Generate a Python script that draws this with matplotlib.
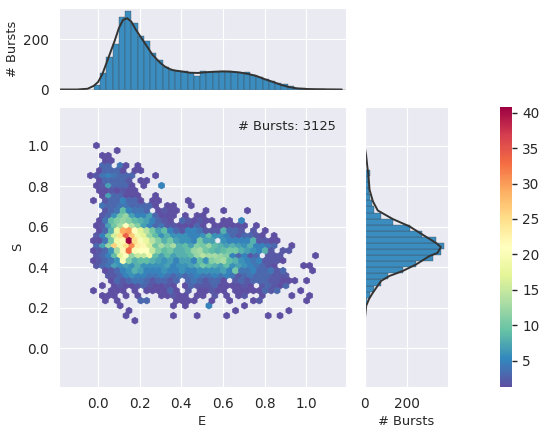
import numpy as np
import matplotlib
matplotlib.use("Agg")
import matplotlib.pyplot as plt
import seaborn as sns

sns.set_style("darkgrid")
plt.rcParams['font.family'] = ['DejaVu Sans']

# Histogram of E: bin edges start at -0.2, width 0.03
e_edges = [-0.2 + 0.03 * k for k in range(48)]
e_counts = [0, 0, 0, 0, 0, 0, 17, 67, 128, 181, 290, 313, 267, 215, 195, 144, 117, 90, 77, 75, 72, 67, 53, 75,
            69, 69, 75, 72, 69, 64, 71, 56, 51, 40, 35, 27, 20, 13, 7, 5, 3, 1, 1, 0, 0, 0, 0]
e_kde_x = [-0.19, -0.1, -0.05, -0.02, 0.0, 0.02, 0.04, 0.06, 0.08, 0.10, 0.12, 0.14, 0.16, 0.18, 0.20, 0.22, 0.24,
           0.26, 0.28, 0.30, 0.32, 0.34, 0.36, 0.40, 0.44, 0.48, 0.52, 0.56, 0.60, 0.64, 0.68, 0.72, 0.76, 0.80,
           0.84, 0.88, 0.92, 0.96, 1.00, 1.05, 1.17]
e_kde_y = [0, 0, 3, 15, 30, 60, 105, 150, 195, 245, 278, 284, 270, 240, 215, 190, 165,
           140, 122, 105, 92, 83, 77, 72, 67, 66, 69, 71, 72, 71, 68, 62, 54, 41,
           30, 18, 9, 4, 2, 1, 0]

# Histogram of S
s_edges = [-0.2 + 0.03 * k for k in range(48)]
s_counts = [0, 0, 0, 0, 0, 0, 0, 0, 0, 0, 0, 0, 1, 3, 14, 28, 47, 79, 114, 183, 246, 327, 363, 378, 341, 272, 218,
            134, 80, 43, 36, 27, 20, 20, 16, 28, 1, 1, 1, 1, 1, 1, 0, 0, 0, 0, 0]
s_kde_y = [0.137, 0.21, 0.245, 0.275, 0.305, 0.333, 0.357, 0.382, 0.414, 0.455, 0.471, 0.50, 0.52, 0.561, 0.602,
           0.638, 0.68, 0.725, 0.782, 0.85, 0.90, 0.95, 1.0]
s_kde_x = [1, 8, 22, 40, 60, 79, 118, 182, 245, 308, 347, 363, 340, 276, 213, 134, 63, 40, 24, 19, 13, 8, 0]

# 2D counts: row -> (first column, counts from that column on)
rows = {
    0: (0, [1]),
    1: (3, [1]),
    2: (1, [1, 1]),
    3: (1, [1, 1]),
    4: (1, [3, 3, 0, 4, 1, 0, 1]),
    5: (0, [1, 3, 3, 3, 1, 0, 1, 1]),
    6: (-1, [1, 2, 4, 5, 4, 3, 3, 3, 0, 0, 0, 1]),
    7: (0, [1, 3, 3, 3, 3, 2, 0, 1, 1]),
    8: (0, [1, 2, 7, 3, 3, 3, 1, 0, 1, 0, 0, 5]),
    9: (0, [1, 1, 2, 1, 2, 1, 1]),
    10: (1, [1, 7, 3, 3, 1, 1, 1, 0, 0, 1]),
    11: (-1, [1, 0, 2, 3, 3, 5, 3, 3, 1, 0, 1, 1, 0, 0, 0, 0, 1]),
    12: (1, [4, 3, 3, 4, 4, 3, 3, 3, 3, 1, 0, 1, 1, 0, 0, 1]),
    13: (1, [2, 3, 4, 9, 5, 4, 4, 3, 0, 1, 2, 1, 1, 0, 0, 0, 0, 1, 0, 0, 1, 0, 0, 0, 1]),
    14: (1, [2, 3, 6, 10, 12, 7, 5, 5, 7, 3, 1, 1, 1, 0, 1, 0, 1, 1]),
    15: (0, [1, 4, 9, 11, 12, 11, 9, 8, 7, 5, 3, 2, 1, 0, 3, 2, 1, 2, 1, 1, 0, 1, 1, 0, 5]),
    16: (0, [1, 2, 7, 10, 13, 21, 14, 11, 7, 5, 3, 4, 2, 2, 1, 1, 1, 3, 1, 0, 1, 1, 1, 1, 1, 1, 0, 1]),
    17: (0, [1, 3, 8, 18, 29, 30, 21, 17, 14, 10, 7, 9, 5, 3, 2, 5, 5, 4, 2, 2, 2, 8, 3, 3, 2, 0, 2, 0, 1]),
    18: (0, [2, 5, 10, 16, 25, 34, 27, 19, 17, 12, 9, 6, 8, 6, 6, 6, 5, 5, 6, 9, 6, 6, 5, 3, 2, 3, 3, 2, 1, 0, 1]),
    19: (-1, [1, 1, 4, 10, 19, 22, 41, 25, 20, 18, 14, 11, 8, 10, 7, 6, 6, 5, 10, 7, 7, 0, 6, 5, 5, 5, 5, 8, 2, 2, 1, 1]),
    20: (0, [3, 7, 12, 26, 19, 25, 31, 23, 22, 16, 10, 13, 11, 13, 8, 9, 7, 11, 10, 12, 9, 8, 7, 8, 7, 6, 8, 5, 5, 4, 3, 0, 0, 1]),
    21: (-1, [1, 2, 3, 6, 13, 22, 33, 20, 21, 21, 15, 11, 9, 10, 8, 8, 9, 12, 13, 10, 9, 8, 9, 10, 10, 8, 7, 6, 5, 8, 2, 0, 2, 2]),
    22: (0, [2, 3, 5, 9, 17, 21, 12, 15, 15, 19, 9, 7, 9, 7, 8, 8, 9, 12, 14, 13, 13, 12, 11, 5, 3, 5, 2, 3, 0, 2, 2, 2, 0, 0, 0, 0, 0, 1]),
    23: (-1, [1, 2, 3, 4, 6, 20, 11, 8, 9, 9, 8, 7, 6, 7, 5, 7, 7, 5, 9, 6, 11, 12, 13, 9, 8, 6, 5, 4, 5, 2, 2, 2, 1]),
    24: (0, [2, 3, 4, 7, 6, 7, 6, 8, 6, 6, 6, 6, 7, 5, 6, 6, 7, 8, 10, 9, 8, 7, 9, 6, 7, 6, 5, 4, 3, 2, 1, 0, 0, 0, 0, 1, 1]),
    25: (1, [1, 2, 3, 5, 6, 8, 7, 5, 5, 5, 6, 5, 5, 6, 5, 5, 6, 6, 6, 6, 7, 5, 10, 4, 4, 5, 3, 3, 4, 2, 3, 0, 0, 0, 0, 1]),
    26: (2, [2, 2, 3, 5, 6, 5, 5, 4, 4, 5, 4, 3, 4, 3, 4, 5, 4, 4, 5, 4, 5, 4, 2, 3, 4, 3, 3, 3, 2, 2, 2]),
    27: (2, [1, 3, 2, 3, 4, 4, 3, 2, 3, 3, 2, 3, 0, 3, 4, 3, 2, 3, 3, 1, 0, 2, 3, 2, 3, 3, 3, 2, 2, 1, 1, 1, 0, 1]),
    28: (1, [1, 0, 1, 2, 1, 1, 2, 3, 2, 1, 1, 2, 1, 0, 1, 3, 2, 2, 2, 3, 1, 1, 1, 1, 2, 1, 0, 2, 3, 2, 1, 3]),
    29: (-1, [1, 0, 0, 1, 1, 1, 0, 1, 0, 1, 1, 1, 1, 3, 1, 0, 2, 0, 1, 1, 2, 1, 1, 0, 1, 1, 1, 1, 1, 3, 2, 3, 0, 0, 0, 1]),
    30: (1, [1, 1, 1, 0, 1, 0, 1, 0, 0, 0, 1, 1, 2, 1, 1, 0, 1, 1, 0, 2, 0, 1, 0, 1, 2, 0, 0, 1, 0, 0, 0, 0, 1, 0, 0, 1]),
    31: (1, [1, 0, 1, 0, 0, 0, 3, 3, 0, 0, 0, 0, 1, 1, 1, 1, 0, 0, 1, 0, 0, 1, 0, 0, 0, 1, 2, 0, 0, 0, 0, 0, 0, 0, 1]),
    32: (4, [1, 0, 0, 0, 0, 0, 0, 0, 0, 1, 0, 1, 0, 0, 0, 5, 0, 0, 0, 0, 0, 1]),
    33: (5, [1, 0, 0, 0, 0, 0, 0, 0, 0, 0, 0, 0, 0, 0, 0, 0, 0, 0, 1, 0, 0, 0, 0, 0, 0, 0, 0, 1]),
    34: (5, [1, 0, 0, 0, 0, 0, 0, 0, 1, 0, 0, 0, 1, 0, 0, 0, 0, 1, 0, 0, 0, 0, 0, 0, 1, 0, 1]),
    35: (6, [1]),
}
n_bursts = "# Bursts: 3125"
cbar_ticks = [5, 10, 15, 20, 25, 30, 35, 40]

W, H = 545, 434
def box(x0, y0, x1, y1):
    return [x0 / W, 1 - y1 / H, (x1 - x0) / W, (y1 - y0) / H]

fig = plt.figure(figsize=(W / 100, H / 100), dpi=100)
ax = fig.add_axes(box(58.5, 107, 346, 387))
axt = fig.add_axes(box(58.5, 8, 346, 89.5), sharex=ax)
axr = fig.add_axes(box(364.5, 107, 448, 387), sharey=ax)
cax = fig.add_axes(box(500, 107, 512, 387))

dE, dS, E0, S0 = 0.02843, 0.02466, -0.008, 1.0
xs, ys, cs = [], [], []
for r, (c0, vals) in rows.items():
    for i, v in enumerate(vals):
        if v > 0:
            xs.append(E0 + dE * (c0 + i + 0.5 * (r % 2)))
            ys.append(S0 - dS * r)
            cs.append(v)
xmin = E0 - 7 * dE
ymin = S0 - 48 * dS
hb = ax.hexbin(xs, ys, C=cs, reduce_C_function=np.sum, gridsize=(48, 28),
               extent=(xmin, xmin + 48 * dE, ymin, ymin + 56 * dS),
               cmap='Spectral_r', vmin=1.3, vmax=40.8, linewidths=0.5, edgecolors='face')
ax.set_xlim(-0.19, 1.19)
ax.set_ylim(-0.19, 1.19)
ax.set_xticks([0, 0.2, 0.4, 0.6, 0.8, 1.0])
ax.set_yticks([0, 0.2, 0.4, 0.6, 0.8, 1.0])
ax.set_xlabel('E', fontsize=9.4, labelpad=3)
ax.set_ylabel('S', fontsize=9.4, labelpad=2)
ax.tick_params(labelsize=9.8, length=0, pad=7)
ax.text(0.966, 0.955, n_bursts, transform=ax.transAxes, ha='right', va='top', fontsize=9.4, color='#262626')

bar_c, bar_e = '#3288bd', '#404040'
axt.bar(e_edges[:-1], e_counts, width=0.03, align='edge', color=bar_c, alpha=0.95, edgecolor=bar_e, linewidth=0.25)
axt.plot(e_kde_x, e_kde_y, color='#333333', lw=1.4)
axt.set_ylim(0, 325)
axt.set_yticks([0, 200])
axt.tick_params(labelbottom=False, labelsize=9.8, length=0, pad=7)
axt.set_ylabel('# Bursts', fontsize=9.4, labelpad=3)

axr.barh(s_edges[:-1], s_counts, height=0.03, align='edge', color=bar_c, alpha=0.95, edgecolor=bar_e, linewidth=0.25)
axr.plot(s_kde_x, s_kde_y, color='#333333', lw=1.4)
axr.set_xlim(0, 397)
axr.set_xticks([0, 200])
axr.tick_params(labelleft=False, labelsize=9.8, length=0, pad=7)
axr.set_xlabel('# Bursts', fontsize=9.4, labelpad=3)

cb = fig.colorbar(hb, cax=cax, ticks=cbar_ticks)
cb.outline.set_visible(False)
cb.ax.tick_params(labelsize=9.8, length=3.5, width=1, color='#262626', pad=4)

fig.savefig('out.png', dpi=100, facecolor='white')
